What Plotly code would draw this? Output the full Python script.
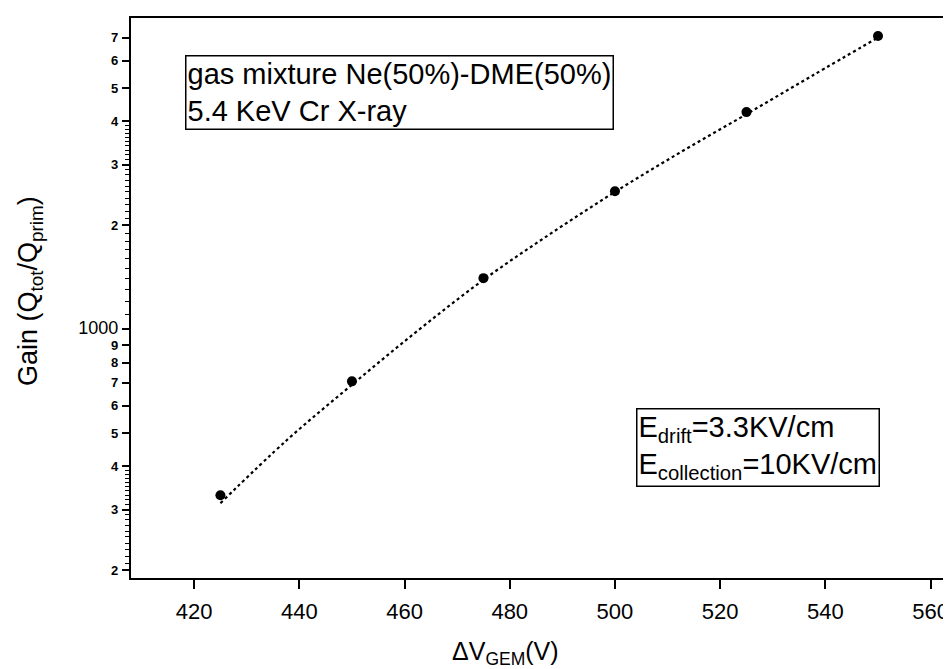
import numpy as np
import plotly.graph_objects as go

# Measured points
voltage = [425, 450, 475, 500, 525, 550]
gain = [330, 706, 1406, 2512, 4258, 7080]

# Fitted (dotted) curve
fit_voltage = [425, 437.5, 450, 462.5, 475, 487.5, 500, 512.5, 525, 537.5, 550]
fit_gain = [313, 475, 690, 990, 1390, 1880, 2500, 3260, 4200, 5430, 7000]

# Axis ticks
x_ticks = [420, 440, 460, 480, 500, 520, 540, 560]
y_major = [200, 300, 400, 500, 600, 700, 800, 900, 1000, 2000, 3000, 4000, 5000, 6000, 7000]
y_major_text = ["2", "3", "4", "5", "6", "7", "8", "9", "1000", "2", "3", "4", "5", "6", "7"]
y_minor = ([v for v in range(210, 400, 10) if v % 100 != 0] +
           [v for v in range(1100, 4000, 100) if v % 1000 != 0])

FONT = "Liberation Sans, Arial, Helvetica, sans-serif"

def ytext(t):
    if t == "1000":
        return "<span style='font-size:18px'>1000</span>"
    return "<b>" + t + "</b>"

fig = go.Figure()
fig.add_trace(go.Scatter(x=fit_voltage, y=fit_gain, mode="lines",
                         line=dict(color="black", width=2.2, dash="dot", shape="spline"),
                         showlegend=False, hoverinfo="skip"))
fig.add_trace(go.Scatter(x=voltage, y=gain, mode="markers",
                         marker=dict(color="black", size=10),
                         showlegend=False))

fig.update_layout(
    width=951, height=669,
    margin=dict(l=123, r=0, t=10, b=99),
    paper_bgcolor="white", plot_bgcolor="white",
    font=dict(family=FONT, color="black"),
    xaxis=dict(range=[408, 565.4], tickvals=x_ticks, ticks="outside", ticklen=9,
               tickwidth=1.5, tickcolor="black", showline=True, linecolor="black",
               linewidth=2.2, mirror=True, showgrid=False, zeroline=False,
               tickfont=dict(size=22), ticklabelstandoff=3),
    yaxis=dict(type="log", range=[np.log10(190), np.log10(7980)],
               tickvals=y_major, ticktext=[ytext(t) for t in y_major_text],
               ticks="outside", ticklen=7, tickwidth=1.5, tickcolor="black",
               showline=True, linecolor="black", linewidth=2.2, mirror=False,
               showgrid=False, zeroline=False, tickfont=dict(size=13),
               ticklabelstandoff=1,
               minor=dict(tickvals=y_minor, ticks="outside", ticklen=4,
                          tickwidth=1.2, tickcolor="black", showgrid=False)),
)

# Axis titles
fig.add_annotation(text="Gain (Q<sub>tot</sub>/Q<sub>prim</sub>)", textangle=-90,
                   xref="paper", yref="paper", x=0, y=0.5125, xanchor="center",
                   yanchor="middle", xshift=-101, showarrow=False,
                   font=dict(size=27))
fig.add_annotation(text="ΔV<sub>GEM</sub>(V)", xref="paper", yref="paper",
                   x=(497 - 123) / 828, y=0, yshift=-75, xanchor="center",
                   yanchor="middle", showarrow=False, font=dict(size=25))

# Text boxes
fig.add_annotation(text="gas mixture Ne(50%)-DME(50%)<br>5.4 KeV Cr X-ray",
                   xref="paper", yref="paper", x=(177 - 123) / 828,
                   y=1 - (47 - 10) / 560, xanchor="left", yanchor="top",
                   align="left", showarrow=False, bordercolor="black",
                   borderwidth=1.5, borderpad=1, bgcolor="white",
                   font=dict(size=29))
fig.add_annotation(text="E<sub>drift</sub>=3.3KV/cm<br>E<sub>collection</sub>=10KV/cm",
                   xref="paper", yref="paper", x=(628 - 123) / 828,
                   y=1 - (400 - 10) / 560, xanchor="left", yanchor="top",
                   align="left", showarrow=False, bordercolor="black",
                   borderwidth=1.5, borderpad=1, bgcolor="white",
                   font=dict(size=29))

fig.write_html("out.html")
